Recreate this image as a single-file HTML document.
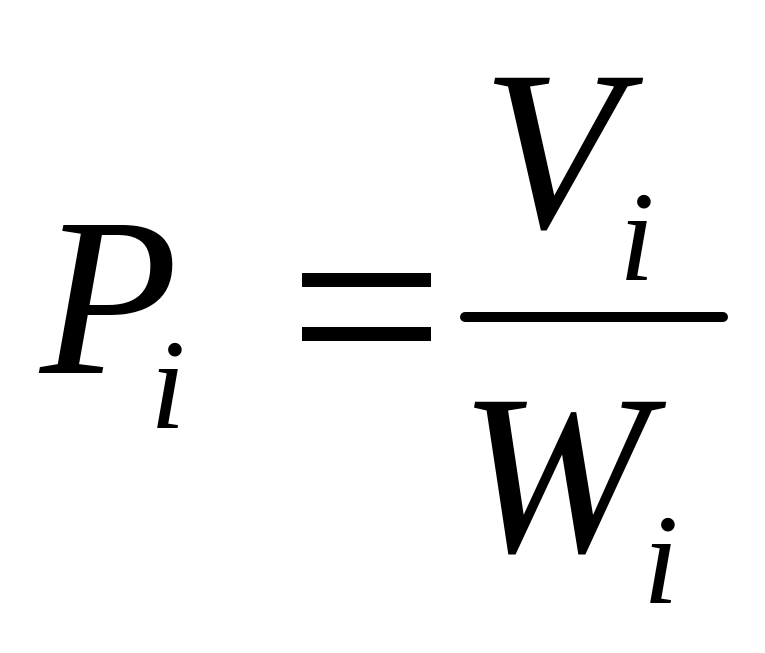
<!DOCTYPE html>
<html><head><meta charset="utf-8"><style>
html,body{margin:0;padding:0;background:#fff;}
svg{display:block;}
text{font-family:"Liberation Serif",serif;font-style:italic;fill:#000;}
</style></head><body>
<svg width="765" height="653" viewBox="0 0 765 653" xmlns="http://www.w3.org/2000/svg">
<text x="40" y="373" font-size="226">P</text>
<text x="150" y="428" font-size="128">i</text>
<rect x="302" y="273" width="129" height="14"/>
<rect x="302" y="327" width="129" height="14"/>
<rect x="460" y="312" width="268" height="10" rx="5"/>
<text x="482" y="227" font-size="228">V</text>
<text x="619" y="280" font-size="128">i</text>
<text x="459" y="551" font-size="228">W</text>
<text x="643" y="603" font-size="128">i</text>
</svg>
</body></html>
